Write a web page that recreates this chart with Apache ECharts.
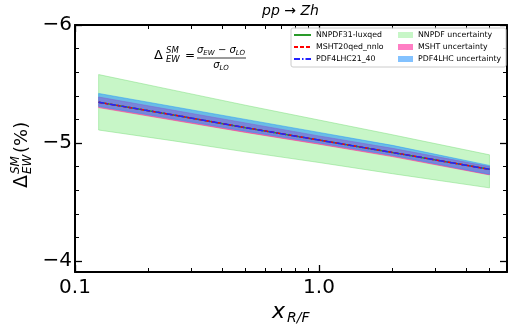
<!DOCTYPE html>
<html>
<head>
<meta charset="utf-8">
<script src="https://cdn.jsdelivr.net/npm/echarts@6/dist/echarts.min.js"></script>
<style>
  html, body { margin: 0; padding: 0; background: #fff; }
  #chart { width: 517px; height: 331px; }
</style>
</head>
<body>
<div id="chart"></div>
<script>
// scale factor x_R/F
const xVals = [0.125, 0.25, 0.5, 1, 2, 5]
// central values (%)
const nnpdfCentral = [-5.345, -5.24, -5.13, -5.025, -4.92, -4.777]
const mshtCentral = [-5.345, -5.24, -5.13, -5.025, -4.92, -4.777]
const pdf4lhcCentral = [-5.345, -5.24, -5.13, -5.025, -4.92, -4.777]
// uncertainty bands, low / high
const nnpdfLow = [-5.58, -5.45, -5.32, -5.195, -5.07, -4.90]
const nnpdfHigh = [-5.11, -5.02, -4.925, -4.835, -4.74, -4.62]
const mshtLow = [-5.39, -5.28, -5.17, -5.06, -4.955, -4.80]
const mshtHigh = [-5.30, -5.195, -5.09, -4.99, -4.885, -4.73]
const pdfLow = [-5.42, -5.31, -5.20, -5.09, -4.98, -4.81]
const pdfHigh = [-5.31, -5.205, -5.10, -5.00, -4.895, -4.735]
// ticks
const xMajorTicks = [0.1, 1]
const xMinorTicks = [0.2, 0.3, 0.4, 0.5, 0.6, 0.7, 0.8, 0.9, 2, 3, 4, 5]
const yMajorTicks = [-6, -5, -4]
const yMinorTicks = [-5.8, -5.6, -5.4, -5.2, -4.8, -4.6, -4.4, -4.2]

const pairs = (ys) => xVals.map((x, i) => [x, ys[i]])

// filled band between lo and hi, drawn as one polygon through the axes
const band = (name, lo, hi, fill, edge) => ({
  name: name,
  type: 'custom',
  silent: true,
  itemStyle: { color: fill },
  data: xVals.map((x, i) => [x, lo[i], hi[i]]),
  encode: { x: 0, y: [1, 2] },
  renderItem: (params, api) => {
    if (params.dataIndex !== 0) return
    const top = xVals.map((x, i) => api.coord([x, hi[i]]))
    const bottom = xVals.map((x, i) => api.coord([x, lo[i]])).reverse()
    return {
      type: 'polygon',
      shape: { points: top.concat(bottom) },
      style: { fill: fill, stroke: edge, lineWidth: 0.8 }
    }
  }
})

const chart = echarts.init(document.getElementById('chart'))

const font = 'DejaVu Sans'
const xAxisBase = {
  type: 'log',
  logBase: 10,
  min: 0.1,
  max: 5.9,
  splitLine: { show: false },
  axisLine: { show: true, onZero: false, lineStyle: { color: '#000', width: 2 } }
}
const yAxisBase = {
  type: 'value',
  inverse: true,
  min: -6,
  max: -3.907,
  splitLine: { show: false },
  axisLine: { show: true, onZero: false, lineStyle: { color: '#000', width: 2 } }
}

const option = {
  animation: false,
  grid: { left: 75, right: 10, top: 25, bottom: 59 },
  xAxis: [
    Object.assign({}, xAxisBase, {
      position: 'bottom',
      axisTick: { inside: true, length: 7, customValues: xMajorTicks, lineStyle: { color: '#000', width: 1.3 } },
      axisLabel: {
        customValues: xMajorTicks, margin: 6,
        fontFamily: font, fontSize: 20, color: '#000',
        formatter: v => Number(v).toFixed(1)
      }
    }),
    Object.assign({}, xAxisBase, {
      position: 'bottom',
      axisLine: { show: false },
      axisTick: { inside: true, length: 4, customValues: xMinorTicks, lineStyle: { color: '#000', width: 1 } },
      axisLabel: { show: false }
    }),
    Object.assign({}, xAxisBase, {
      position: 'top',
      axisTick: { inside: true, length: 7, customValues: xMajorTicks, lineStyle: { color: '#000', width: 1.3 } },
      axisLabel: { show: false }
    }),
    Object.assign({}, xAxisBase, {
      position: 'top',
      axisLine: { show: false },
      axisTick: { inside: true, length: 4, customValues: xMinorTicks, lineStyle: { color: '#000', width: 1 } },
      axisLabel: { show: false }
    })
  ],
  yAxis: [
    Object.assign({}, yAxisBase, {
      position: 'left',
      axisTick: { inside: true, length: 7, customValues: yMajorTicks, lineStyle: { color: '#000', width: 1.3 } },
      axisLabel: {
        customValues: yMajorTicks, margin: 3,
        fontFamily: font, fontSize: 20, color: '#000',
        formatter: v => String(v).replace('-', '\u2212')
      }
    }),
    Object.assign({}, yAxisBase, {
      position: 'left',
      axisLine: { show: false },
      axisTick: { inside: true, length: 4, customValues: yMinorTicks, lineStyle: { color: '#000', width: 1 } },
      axisLabel: { show: false }
    }),
    Object.assign({}, yAxisBase, {
      position: 'right',
      axisTick: { inside: true, length: 7, customValues: yMajorTicks, lineStyle: { color: '#000', width: 1.3 } },
      axisLabel: { show: false }
    }),
    Object.assign({}, yAxisBase, {
      position: 'right',
      axisLine: { show: false },
      axisTick: { inside: true, length: 4, customValues: yMinorTicks, lineStyle: { color: '#000', width: 1 } },
      axisLabel: { show: false }
    })
  ],
  legend: [{
    orient: 'vertical',
    left: 293, top: 30,
    padding: 0,
    itemWidth: 17, itemHeight: 8, itemGap: 2,
    textStyle: { fontFamily: font, fontSize: 7.8, lineHeight: 10, color: '#000' },
    data: [
      { name: 'NNPDF31-luxqed', itemStyle: { opacity: 0 } },
      { name: 'MSHT20qed_nnlo', itemStyle: { opacity: 0 } },
      { name: 'PDF4LHC21_40', itemStyle: { opacity: 0 } }
    ]
  }, {
    orient: 'vertical',
    left: 398, top: 30,
    padding: 0,
    itemWidth: 15, itemHeight: 6, itemGap: 2,
    textStyle: { fontFamily: font, fontSize: 7.8, lineHeight: 10, color: '#000' },
    data: [
      { name: 'NNPDF uncertainty', icon: 'rect' },
      { name: 'MSHT uncertainty', icon: 'rect' },
      { name: 'PDF4LHC uncertainty', icon: 'rect' }
    ]
  }],
  series: [
    band('NNPDF uncertainty', nnpdfLow, nnpdfHigh, 'rgba(144,238,144,0.5)', 'rgba(120,220,120,0.6)'),
    band('MSHT uncertainty', mshtLow, mshtHigh, 'rgba(255,20,147,0.55)', 'rgba(255,20,147,0.6)'),
    band('PDF4LHC uncertainty', pdfLow, pdfHigh, 'rgba(30,144,255,0.55)', 'rgba(30,144,255,0.6)'),
    {
      name: 'NNPDF31-luxqed', type: 'line', symbol: 'none',
      data: pairs(nnpdfCentral),
      lineStyle: { color: '#2a9a2a', width: 1.5 }, itemStyle: { color: '#2a9a2a' }
    },
    {
      name: 'MSHT20qed_nnlo', type: 'line', symbol: 'none',
      data: pairs(mshtCentral),
      lineStyle: { color: '#ff0000', width: 1.5, type: [4, 2] }, itemStyle: { color: '#ff0000' }
    },
    {
      name: 'PDF4LHC21_40', type: 'line', symbol: 'none',
      data: pairs(pdf4lhcCentral),
      lineStyle: { color: '#2222ff', width: 1.5, type: [6, 2, 1.5, 2] }, itemStyle: { color: '#2222ff' }
    }
  ],
  graphic: [
    // legend frame
    {
      type: 'rect', z: 1, silent: true,
      shape: { x: 291, y: 28, width: 215, height: 39, r: 2 },
      style: { fill: 'rgba(255,255,255,0.8)', stroke: '#cccccc', lineWidth: 1 }
    },
    // title
    {
      type: 'text', left: 262, top: 4, silent: true,
      style: { text: 'pp \u2192 Zh', fontFamily: font, fontSize: 14, fontStyle: 'italic', fill: '#000' }
    },
    // formula
    {
      type: 'group', x: 154, y: 56, silent: true,
      children: [
        { type: 'text', x: 0, y: 0, style: { text: '\u0394', fontFamily: font, fontSize: 13, fill: '#000', verticalAlign: 'middle' } },
        { type: 'text', x: 12, y: -5, style: { text: 'SM', fontFamily: font, fontSize: 8.5, fontStyle: 'italic', fill: '#000', verticalAlign: 'middle' } },
        { type: 'text', x: 12, y: 4, style: { text: 'EW', fontFamily: font, fontSize: 8.5, fontStyle: 'italic', fill: '#000', verticalAlign: 'middle' } },
        { type: 'text', x: 31, y: 0, style: { text: '=', fontFamily: font, fontSize: 12, fill: '#000', verticalAlign: 'middle' } },
        {
          type: 'text', x: 67, y: -6,
          style: {
            text: '{m|\u03c3}{s|EW}{m| \u2212 \u03c3}{s|LO}',
            align: 'center', verticalAlign: 'middle',
            rich: {
              m: { fontFamily: font, fontSize: 10, fontStyle: 'italic', lineHeight: 13, verticalAlign: 'middle', fill: '#000' },
              s: { fontFamily: font, fontSize: 7, fontStyle: 'italic', lineHeight: 13, verticalAlign: 'bottom', fill: '#000' }
            }
          }
        },
        { type: 'line', shape: { x1: 43, y1: 2, x2: 92, y2: 2 }, style: { stroke: '#000', lineWidth: 0.8 } },
        {
          type: 'text', x: 67, y: 9,
          style: {
            text: '{m|\u03c3}{s|LO}',
            align: 'center', verticalAlign: 'middle',
            rich: {
              m: { fontFamily: font, fontSize: 10, fontStyle: 'italic', lineHeight: 13, verticalAlign: 'middle', fill: '#000' },
              s: { fontFamily: font, fontSize: 7, fontStyle: 'italic', lineHeight: 13, verticalAlign: 'bottom', fill: '#000' }
            }
          }
        }
      ]
    },
    // y axis name
    {
      type: 'group', x: 22, y: 188, rotation: Math.PI / 2, silent: true,
      children: [
        { type: 'text', x: 0, y: 0, style: { text: '\u0394', fontFamily: font, fontSize: 19, fill: '#000', verticalAlign: 'middle' } },
        { type: 'text', x: 14, y: -6, style: { text: 'SM', fontFamily: font, fontSize: 12, fontStyle: 'italic', fill: '#000', verticalAlign: 'middle' } },
        { type: 'text', x: 14, y: 6, style: { text: 'EW', fontFamily: font, fontSize: 12, fontStyle: 'italic', fill: '#000', verticalAlign: 'middle' } },
        { type: 'text', x: 35, y: 0, style: { text: '(%)', fontFamily: font, fontSize: 18, fill: '#000', verticalAlign: 'middle' } }
      ]
    },
    // x axis name
    {
      type: 'group', x: 272, y: 312, silent: true,
      children: [
        { type: 'text', x: 0, y: 0, style: { text: 'x', fontFamily: font, fontSize: 22, fontStyle: 'italic', fill: '#000', verticalAlign: 'middle' } },
        { type: 'text', x: 15, y: 6, style: { text: 'R/F', fontFamily: font, fontSize: 14, fontStyle: 'italic', fill: '#000', verticalAlign: 'middle' } }
      ]
    }
  ]
}

chart.setOption(option)
</script>
</body>
</html>
